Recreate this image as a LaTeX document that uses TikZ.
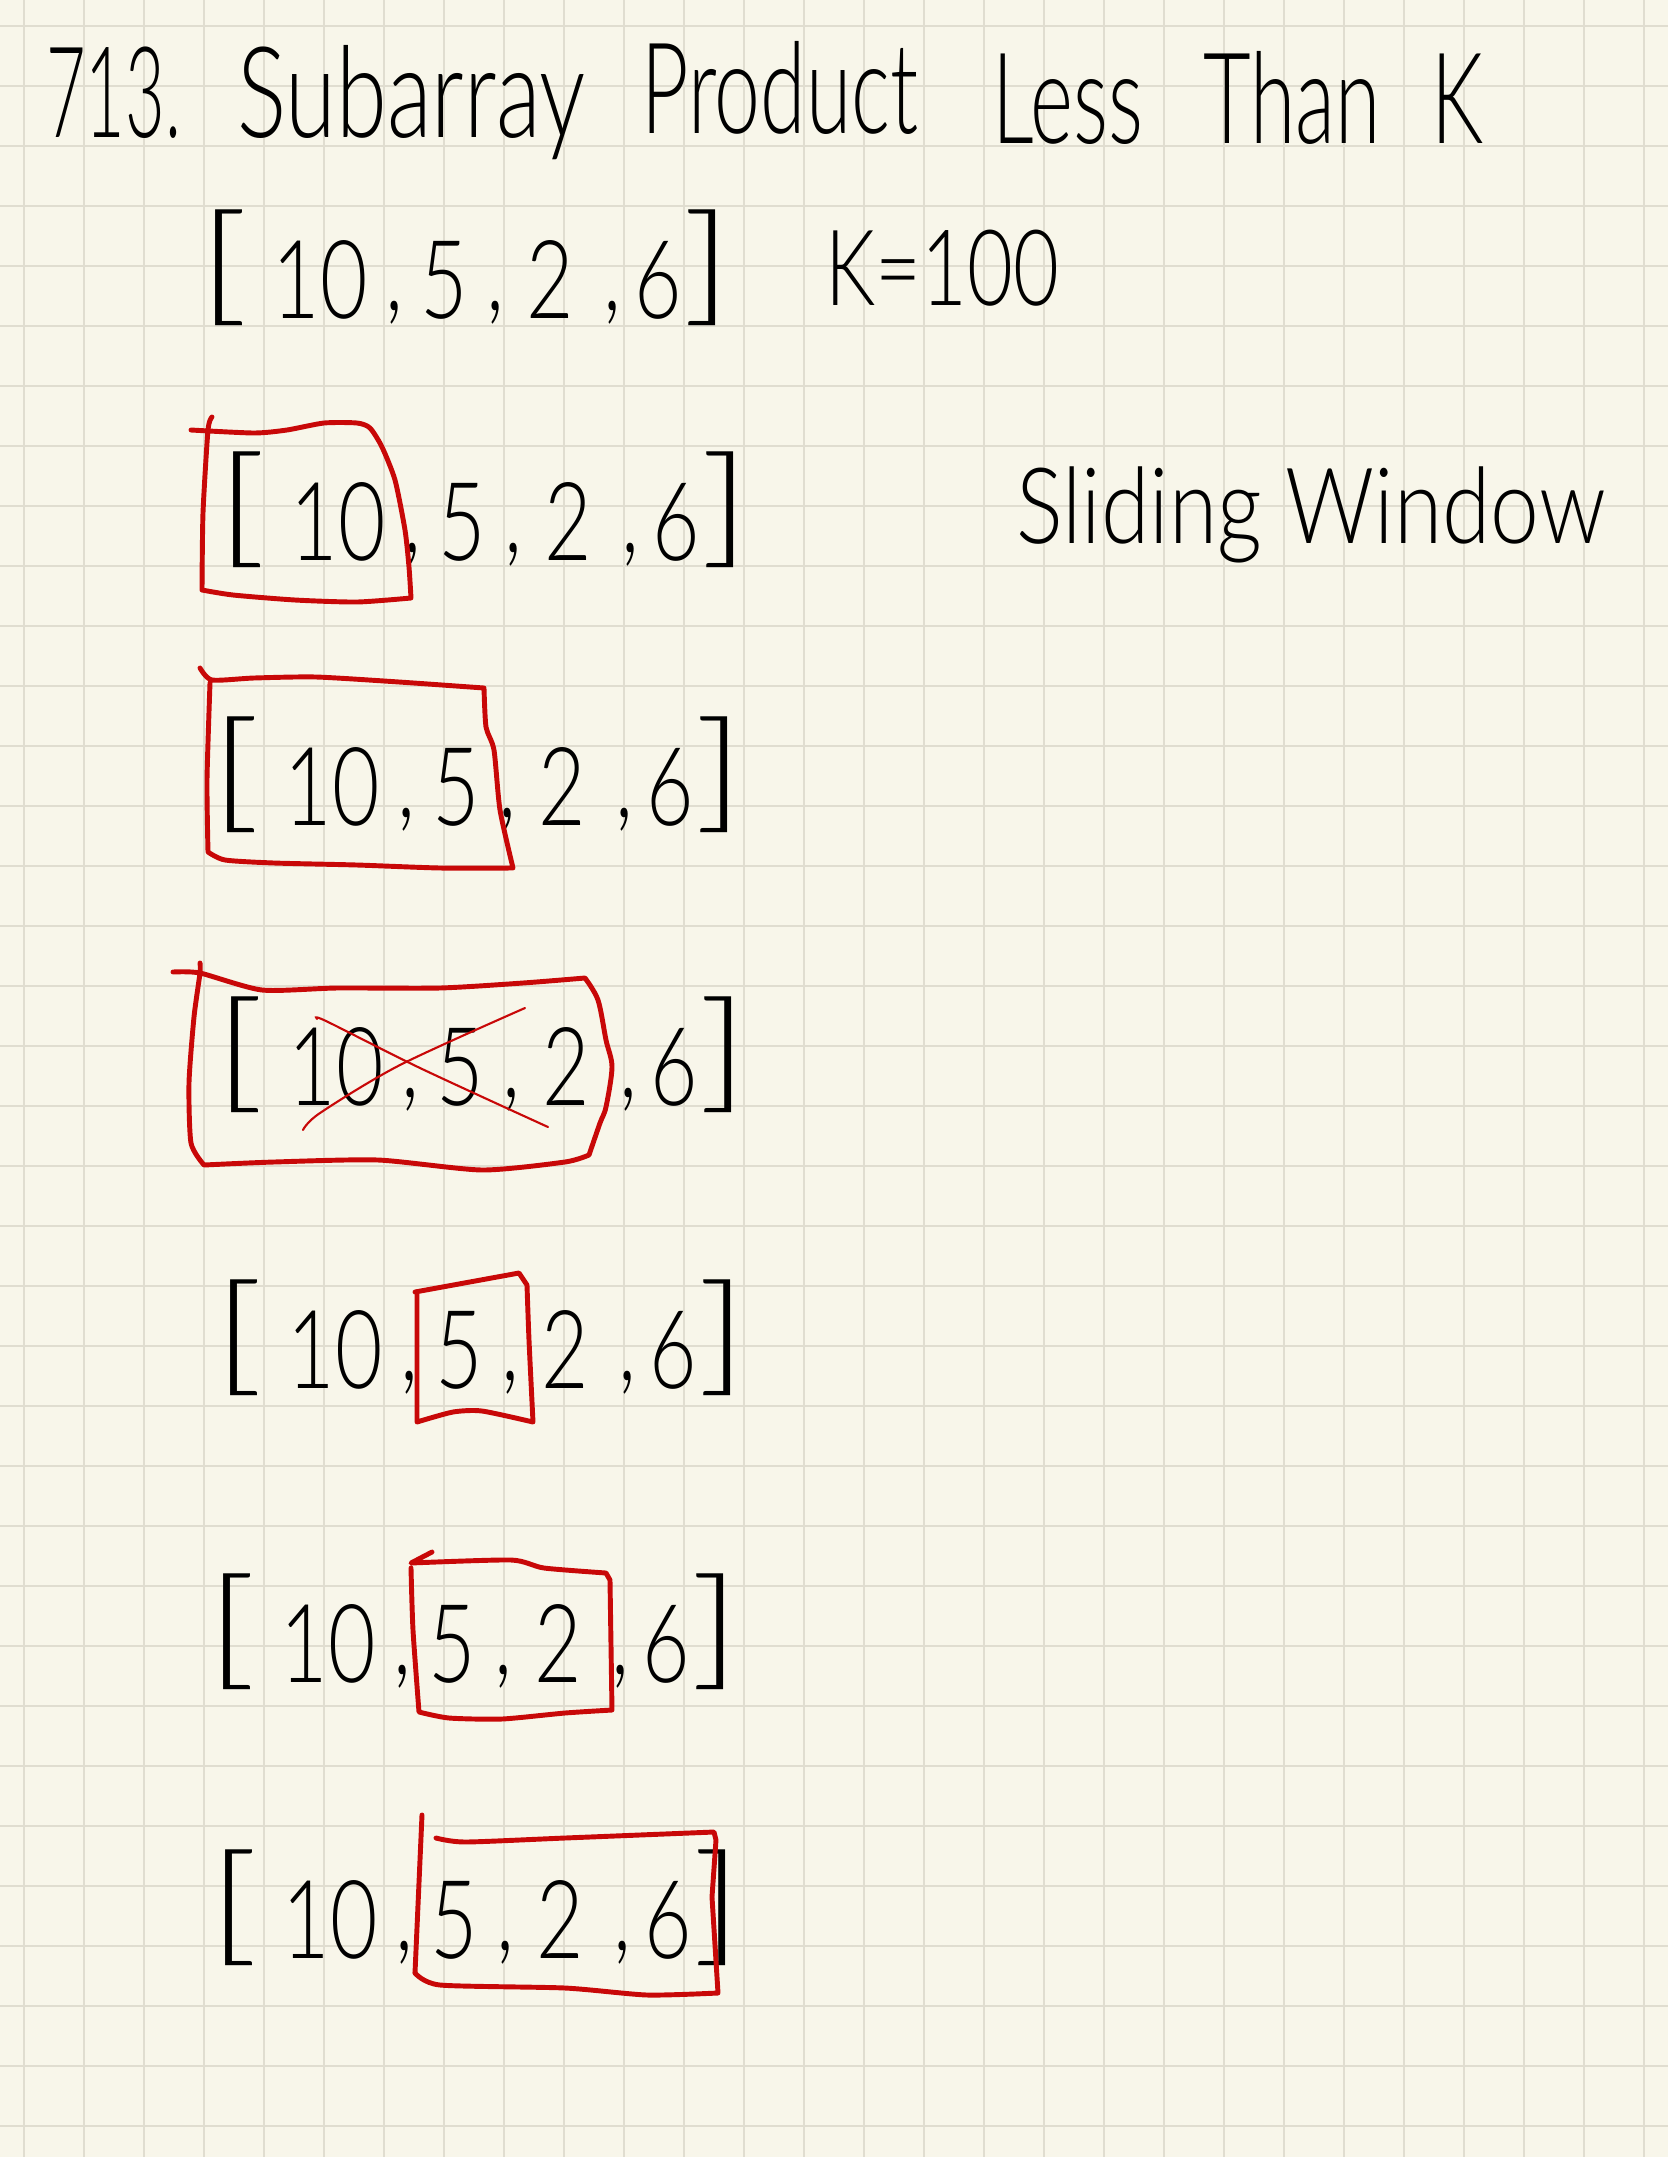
\documentclass[tikz,border=0pt]{standalone}
\usepackage{fontspec}
\newfontfamily\handfont{Lato Light}
\definecolor{paper}{HTML}{F8F6EA}
\definecolor{gridc}{HTML}{E0DDD0}
\definecolor{pen}{HTML}{C80808}

\tikzset{
  gridline/.style={draw=gridc, line width=.6pt},
  hand/.style={inner sep=0pt, text=black, xscale=.75},
  heading/.style={hand, font={\handfont\fontsize{36pt}{36pt}\selectfont}, xscale=.65/.75, anchor=base west},
  elem/.style={hand, font={\handfont\fontsize{31pt}{31pt}\selectfont}, anchor=base},
  brack/.style={hand, font={\handfont\fontsize{37pt}{37pt}\selectfont}, xscale=1.3/.75, anchor=south},
  note/.style={hand, font={\handfont\fontsize{30pt}{30pt}\selectfont}, anchor=base west},
  redbox/.style={draw=pen, line width=1.4pt, line cap=round, line join=round},
  strike/.style={draw=pen, line width=.6pt, line cap=round}
}

\begin{document}
\begin{tikzpicture}[x=0.01cm, y=-0.01cm]

  \useasboundingbox (0,0) rectangle (1668,2157);
  \fill[paper] (0,0) rectangle (1668,2157);
  \foreach \gx in {24,84,...,1644} \draw[gridline] (\gx,0) -- (\gx,2157);
  \foreach \gy in {26,86,...,2126} \draw[gridline] (0,\gy) -- (1668,\gy);

  % title and notes
  \node[heading, xscale=.83] (num)  at (46,137)   {713.};
  \node[heading, xscale=1.12] (subarray) at (237,137)  {Subarray};
  \node[heading] (product)  at (641,133)  {Product};
  \node[heading] (less)     at (992,143)  {Less};
  \node[heading] (than)     at (1203,143) {Than};
  \node[heading] (kk)       at (1431,143) {K};
  \node[note] (target) at (825,305) {K=100};
  \node[note, xscale=.83/.75] (method) at (1016,543) {Sliding Window};

  % the array, once per step
  \foreach \row/\dx/\base in {0/-16/318, 1/2/560, 2/-4/825, 3/0/1105, 4/-1/1388, 5/-8/1682, 6/-6/1958} {
    \node[brack] (r\row-l)  at (240+\dx,\base+8) {[};
    \node[elem]  (r\row-a)  at (336+\dx,\base)   {10};
    \node[elem]  (r\row-c1) at (410+\dx,\base-8) {,};
    \node[elem]  (r\row-b)  at (460+\dx,\base)   {5};
    \node[elem]  (r\row-c2) at (511+\dx,\base-8) {,};
    \node[elem]  (r\row-c)  at (566+\dx,\base)   {2};
    \node[elem]  (r\row-c3) at (628+\dx,\base-8) {,};
    \node[elem]  (r\row-d)  at (674+\dx,\base)   {6};
    \node[brack] (r\row-r)  at (724+\dx,\base+8) {]};
  }

  % windows
  \draw[redbox] plot[smooth, tension=.4] coordinates {(191,430) (254,433) (287,430) (324,423) (357,423) (370,428) (382,447) (395,480) (405,530) (409,567) (411,598)}
    -- plot[smooth, tension=.4] coordinates {(411,598) (357,602) (295,600) (233,595) (202,590)}
    -- plot[smooth, tension=.4] coordinates {(202,590) (203,513) (208,430) (212,417)};

  \draw[redbox] plot[smooth, tension=.4] coordinates {(200,668) (212,680) (254,678) (316,677) (399,682) (484,688)}
    -- plot[smooth, tension=.4] coordinates {(484,688) (486,727) (494,750) (500,810) (513,868)}
    -- plot[smooth, tension=.4] coordinates {(513,868) (440,868) (357,865) (274,863) (225,860) (208,852)}
    -- plot[smooth, tension=.4] coordinates {(208,852) (207,780) (210,683)};

  \draw[redbox] plot[smooth, tension=.4] coordinates {(173,972) (200,973) (262,990) (337,988) (440,988) (523,983) (585,978)}
    -- plot[smooth, tension=.5] coordinates {(585,978) (598,1000) (606,1040) (612,1067) (606,1107) (600,1123) (589,1155)}
    -- plot[smooth, tension=.4] coordinates {(589,1155) (565,1162) (482,1170) (378,1160) (274,1162) (204,1165)}
    -- plot[smooth, tension=.4] coordinates {(204,1165) (191,1143) (189,1083) (194,1017) (200,973) (200,963)};
  \draw[strike] plot[smooth] coordinates {(317,1019) (326,1021) (420,1068) (548,1127)};
  \draw[strike] plot[smooth] coordinates {(303,1130) (320,1113) (400,1065) (525,1008)};

  \draw[redbox] (415,1292) -- (519,1273) -- (527,1285)
    -- plot[smooth, tension=.4] coordinates {(527,1285) (529,1340) (533,1422)}
    -- plot[smooth, tension=.4] coordinates {(533,1422) (482,1411) (453,1412) (417,1422)}
    -- (417,1293);

  \draw[redbox] (432,1552) -- (411,1563)
    -- plot[smooth, tension=.4] coordinates {(411,1563) (511,1560) (544,1568) (606,1573)}
    -- (610,1580) -- (612,1710)
    -- plot[smooth, tension=.4] coordinates {(612,1710) (565,1713) (502,1719) (449,1718) (419,1712)}
    -- plot[smooth, tension=.4] coordinates {(419,1712) (413,1630) (411,1568)};

  \draw[redbox] (422,1815) -- (415,1973);
  \draw[redbox] plot[smooth, tension=.4] coordinates {(436,1838) (465,1842) (565,1838) (714,1832)}
    -- (716,1840) -- (712,1897) -- (718,1993)
    -- plot[smooth, tension=.4] coordinates {(718,1993) (647,1995) (565,1988) (440,1985) (415,1973)};

\end{tikzpicture}
\end{document}
